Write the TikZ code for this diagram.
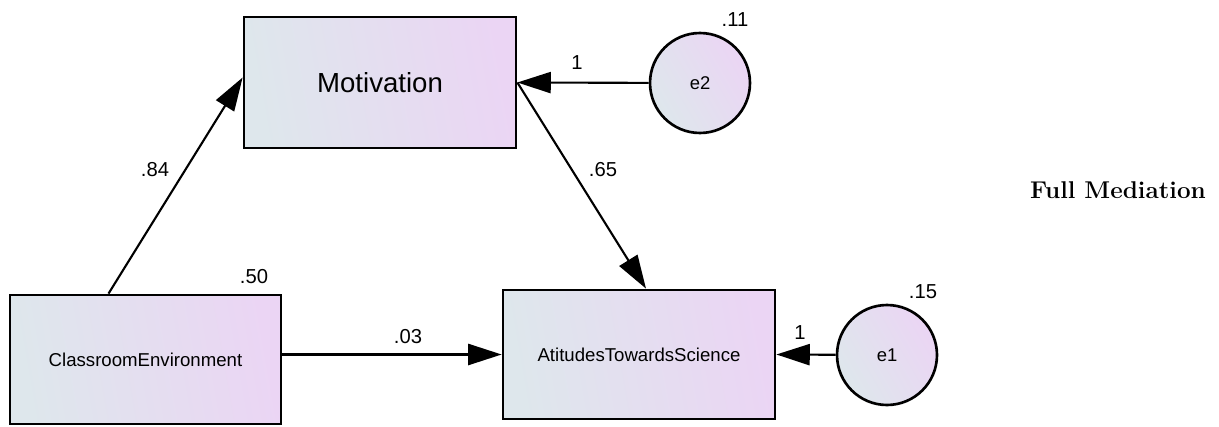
\documentclass[tikz,border=0pt]{standalone}
\usepackage{fontspec}
\setsansfont{Liberation Sans}
\usetikzlibrary{arrows.meta}
\definecolor{varleft}{RGB}{222,231,236}
\definecolor{varright}{RGB}{235,213,244}
\tikzset{
  observed/.style={draw, line width=1.6pt, left color=varleft, right color=varright, shading angle=100, inner sep=0pt, font=\sffamily\fontsize{10.6}{12}\selectfont},
  errvar/.style={draw, circle, line width=1.5pt, left color=varleft, right color=varright, shading angle=120, minimum size=2cm, inner sep=0pt, font=\sffamily\fontsize{10.5}{12}\selectfont},
  coef/.style={inner sep=0pt, font=\sffamily\fontsize{11.5}{13}\selectfont},
  regpath/.style={line width=1.2pt, -{Triangle[length=19pt,width=12pt]}},
}
\begin{document}
\begin{tikzpicture}[x=0.02cm,y=-0.02cm]
\useasboundingbox (0,0) rectangle (1219,426);
\node[observed, minimum width=5.44cm, minimum height=2.62cm, font=\sffamily\fontsize{15.7}{18}\selectfont] (mot) at (380,82.5) {Motivation};
\node[observed, minimum width=5.42cm, minimum height=2.58cm] (ce) at (145.5,359.5) {ClassroomEnvironment};
\node[observed, minimum width=5.44cm, minimum height=2.58cm] (ats) at (639,354.5) {AtitudesTowardsScience};
\node[errvar] (e2) at (700,83) {e2};
\node[errvar] (e1) at (887,355) {e1};
\draw[regpath] ([xshift=-0.74cm]ce.north) -- ([yshift=0.1cm]mot.west);
\draw[regpath] (mot.east) -- ([xshift=0.14cm]ats.north);
\draw[regpath] (ce.east |- ats.west) -- (ats.west);
\draw[regpath] (e2) -- (mot.east);
\draw[regpath] (e1) -- (ats.east);
\node[coef] (c84) at (155,170) {.84};
\node[coef] (c65) at (603,170) {.65};
\node[coef] (c03) at (408,337) {.03};
\node[coef] (v50) at (254,277) {.50};
\node[coef] (w2) at (577,63) {1};
\node[coef] (w1) at (800,333) {1};
\node[coef] (v11) at (735,20) {.11};
\node[coef] (v15) at (923,292) {.15};
\node[font=\bfseries\fontsize{13.8}{16}\selectfont, inner sep=0pt] (title) at (1118,190) {Full Mediation};
\end{tikzpicture}
\end{document}
